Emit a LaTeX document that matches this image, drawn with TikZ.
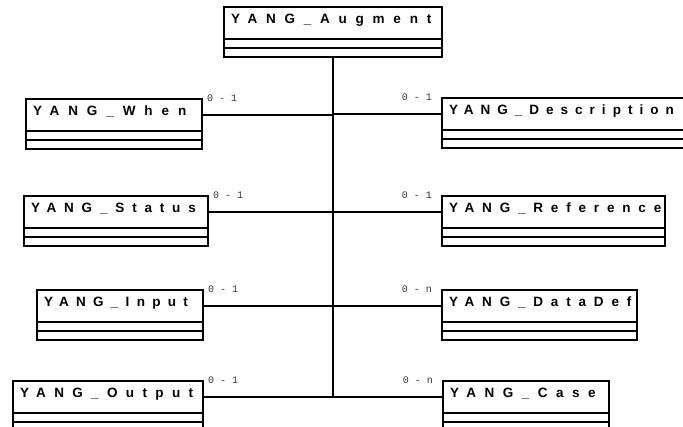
\documentclass[tikz,border=0pt]{standalone}
\usepackage{fontspec}
\newfontfamily\clsfamily{Liberation Sans}
\newfontfamily\multfont{Liberation Mono}
\usetikzlibrary{calc}

\tikzset{
  cls/.style={draw, line width=1.8pt, outer sep=0pt, anchor=north west,
    inner xsep=7pt, inner ysep=0pt, text height=17pt, text depth=15pt, align=left,
    font=\clsfamily\bfseries\fontsize{13.5}{16}\selectfont\addfontfeatures{LetterSpace=#1}},
  cls/.default=60,
  cls line/.style={line width=1.8pt},
  assoc/.style={line width=1.8pt},
  trunk/.style={line width=2.8pt},
  mult/.style={font=\multfont\fontsize{10}{12}\selectfont, text=black!80, inner sep=0pt}
}

\begin{document}
\begin{tikzpicture}[x=1pt, y=-1pt]
\clip (0,0) rectangle (683,427);

% classes
\node[cls=65, text width=204pt] (aug) at (224,7) {YANG\_Augment};
\node[cls=66, text width=162pt] (when) at (26,99) {YANG\_When};
\node[cls=52, text width=230pt] (desc) at (442,98) {YANG\_Description};
\node[cls=58, text width=170pt] (status) at (24,196) {YANG\_Status};
\node[cls=58, text width=209pt] (ref) at (442,196) {YANG\_Reference};
\node[cls=54, text width=152pt] (input) at (37,290) {YANG\_Input};
\node[cls=58, text width=181pt] (ddef) at (442,290) {YANG\_DataDef};
\node[cls=62, text width=176pt] (output) at (13,381) {YANG\_Output};
\node[cls=63, text width=152pt] (case) at (443,381) {YANG\_Case};

% empty compartments
\foreach \c in {aug,when,desc,status,ref,input,ddef,output,case} {
  \draw[cls line] (\c.south west) rectangle ($(\c.south east)+(0,9)$);
  \draw[cls line] ($(\c.south west)+(0,9)$) rectangle ($(\c.south east)+(0,18)$);
}

% trunk and associations
\draw[trunk] ($(aug.south)+(0,18)$) -- (aug.south |- case.west);
\foreach \c in {when,status,input,output}
  \draw[assoc] (\c.east) -- (\c.east -| aug.south);
\foreach \c in {desc,ref,ddef,case}
  \draw[assoc] (\c.west) -- (\c.west -| aug.south);

% multiplicities
\node[mult, anchor=base west] (m-when) at ($(when.north east)+(5,3)$) {0 - 1};
\node[mult, anchor=base west] (m-status) at ($(status.north east)+(5,3)$) {0 - 1};
\node[mult, anchor=base west] (m-input) at ($(input.north east)+(5,3)$) {0 - 1};
\node[mult, anchor=base west] (m-output) at ($(output.north east)+(5,3)$) {0 - 1};
\node[mult, anchor=base east] (m-desc) at ($(desc.north west)+(-10,3)$) {0 - 1};
\node[mult, anchor=base east] (m-ref) at ($(ref.north west)+(-10,3)$) {0 - 1};
\node[mult, anchor=base east] (m-ddef) at ($(ddef.north west)+(-10,3)$) {0 - n};
\node[mult, anchor=base east] (m-case) at ($(case.north west)+(-10,3)$) {0 - n};
\end{tikzpicture}
\end{document}
